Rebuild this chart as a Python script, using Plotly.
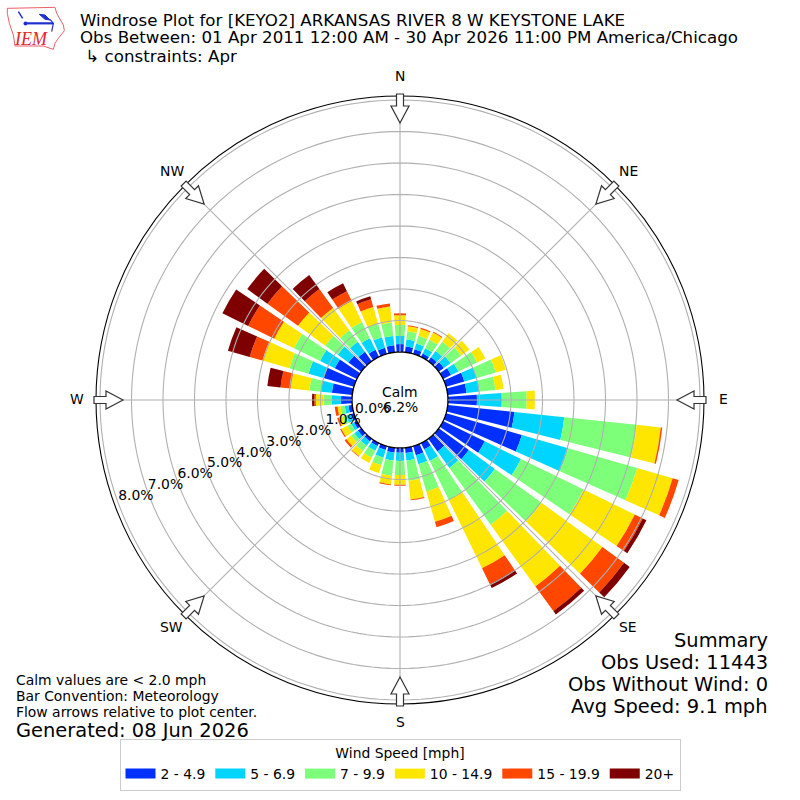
import math
import plotly.graph_objects as go

directions = list(range(0, 360, 10))
speed_bins = ["2 - 4.9", "5 - 6.9", "7 - 9.9", "10 - 14.9", "15 - 19.9", "20+"]
bin_colors = ["#0030ff", "#00d5ff", "#7dff7a", "#ffe600", "#ff4700", "#7f0000"]

freq_2_5 = [.25,.18,.15,.12,.15,.2,.28,.6,.6,.92,2.13,2.5,1.47,1.18,.5,.22,.3,.17,.15,.15,.13,.1,.1,.13,.1,.1,.12,.35,.65,1.0,.78,.5,.37,.25,.2,.22]
freq_5_7 = [.26,.23,.19,.18,.25,.26,.26,.42,.42,.79,1.59,1.53,1.28,1.02,.64,.41,.3,.24,.26,.26,.25,.17,.17,.14,.1,.15,.12,.3,.35,.5,.52,.42,.39,.41,.35,.3]
freq_7_10 = [.35,.26,.26,.3,.36,.42,.66,.62,.5,.79,2.31,2.28,2.21,1.83,2.23,1.37,.9,.64,.45,.49,.25,.25,.21,.13,.13,.13,.14,.26,.37,.63,.92,.49,.45,.57,.45,.43]
freq_10_15 = [.31,.16,.22,.26,.34,.32,.29,.33,.26,.26,.77,1.17,1.81,2.39,2.42,2.42,1.0,.6,.31,.27,.26,.18,.2,.18,.22,.12,.09,.24,.6,.89,.7,1.07,.88,.74,.55,.51]
freq_15_20 = [.06,.03,.04,.03,0,0,0,0,0,0,.05,.2,.28,.85,.97,.56,.18,.03,.03,.03,0,0,.02,.07,.04,.05,.09,.05,.32,.42,.92,1.2,.74,.35,.25,.1]
freq_20 = [0,0,0,0,0,0,0,0,0,0,0,0,.13,.22,.13,.14,0,0,0,0,0,0,0,0,0,0,0,.07,.42,.72,.91,.79,.55,.28,.1,0]
series = [freq_2_5, freq_5_7, freq_7_10, freq_10_15, freq_15_20, freq_20]

radial_ticks = [0, 1, 2, 3, 4, 5, 6, 7, 8]
compass_angles = [0, 45, 90, 135, 180, 225, 270, 315]
compass_labels = ["N", "NE", "E", "SE", "S", "SW", "W", "NW"]

title_lines = ["Windrose Plot for [KEYO2] ARKANSAS RIVER 8 W KEYSTONE LAKE",
               "Obs Between: 01 Apr 2011 12:00 AM - 30 Apr 2026 11:00 PM America/Chicago",
               " ↳ constraints: Apr"]
notes = ["Calm values are < 2.0 mph", "Bar Convention: Meteorology", "Flow arrows relative to plot center."]
summary = ["Summary", "Obs Used: 11443", "Obs Without Wind: 0", "Avg Speed: 9.1 mph"]

FONT = "DejaVu Sans"
GRID = "#b0b0b0"
CX, CY, OUTER, HOLE, UNIT = 400, 400, 304, 48, 31.5
R_MAX = (OUTER - HOLE) / UNIT
R_MIN = -HOLE / UNIT

px = lambda x: x / 800
py = lambda y: 1 - y / 800

fig = go.Figure()
for name, color, vals in zip(speed_bins, bin_colors, series):
    fig.add_trace(go.Barpolar(r=vals, theta=directions, width=8, name=name,
                              marker=dict(color=color, line=dict(width=0)), showlegend=False))

circle_theta = list(range(0, 361, 2))
for t in radial_ticks:
    fig.add_trace(go.Scatterpolar(r=[t] * len(circle_theta), theta=circle_theta, mode="lines",
                                  line=dict(color="black" if t == 0 else GRID, width=1.4 if t == 0 else 1.1),
                                  showlegend=False, hoverinfo="skip"))
for a in compass_angles:
    fig.add_trace(go.Scatterpolar(r=[0, R_MAX], theta=[a, a], mode="lines",
                                  line=dict(color=GRID, width=1.1), showlegend=False, hoverinfo="skip"))

fig.add_trace(go.Scatterpolar(r=[t - 0.6 for t in radial_ticks], theta=[250] * len(radial_ticks), mode="text",
                              text=[f"{t:.1f}%" for t in radial_ticks], textposition="middle center",
                              textfont=dict(family=FONT, size=13.9, color="black"),
                              showlegend=False, hoverinfo="skip"))

for name, color in zip(speed_bins, bin_colors):
    fig.add_trace(go.Scatterpolar(r=[None], theta=[None], mode="lines", name=name,
                                  line=dict(color=color, width=10), showlegend=True))


def arrow_path(angle):
    a = math.radians(angle)
    ux, uy = math.sin(a), -math.cos(a)
    vx, vy = -uy, ux
    outline = [(306, 3.5), (294, 3.5), (294, 9), (277, 0), (294, -9), (294, -3.5), (306, -3.5)]
    pts = [(CX + r * ux + w * vx, CY + r * uy + w * vy) for r, w in outline]
    return "M" + "L".join(f"{px(x):.5f},{py(y):.5f}" for x, y in pts) + "Z"


shapes = [dict(type="path", xref="paper", yref="paper", path=arrow_path(a),
               fillcolor="white", line=dict(color="#333333", width=1.2)) for a in compass_angles]

# IEM logo
def poly(points, close=True):
    s = "M" + "L".join(f"{px(x/3):.5f},{py(y/3):.5f}" for x, y in points)
    return s + ("Z" if close else "")

logo_outline = [(22,25),(165,22),(170,40),(190,75),(193,92),(175,115),(165,130),(160,148),(130,138),(45,138),(40,105),(28,70),(22,40)]
shapes.append(dict(type="path", xref="paper", yref="paper", path=poly(logo_outline),
                   fillcolor="white", line=dict(color="#e8606a", width=1)))
for pts, w in [([(75,70),(160,70)], 2.2), ([(150,58),(160,70),(155,95)], 1.2), ([(55,35),(68,55)], 1.5)]:
    shapes.append(dict(type="path", xref="paper", yref="paper", path=poly(pts, False),
                       line=dict(color="#2030d0", width=w)))
shapes.append(dict(type="path", xref="paper", yref="paper", path=poly([(118,43),(135,45),(150,60),(135,58)]),
                   fillcolor="#2030d0", line=dict(color="#2030d0", width=1)))
shapes.append(dict(type="circle", xref="paper", yref="paper", x0=px(23.5), x1=px(27.5), y0=py(25.5), y1=py(21.5),
                   fillcolor="#2030d0", line=dict(width=0)))

ann = []
def text(x, y, s, size, anchor="left", family=FONT, color="black"):
    shift = {"left": -2, "right": 2, "center": 0}[anchor]
    ann.append(dict(x=px(x + shift), y=py(y), xref="paper", yref="paper", text=s, showarrow=False,
                    xanchor=anchor, yanchor="middle", align=anchor,
                    font=dict(family=family, size=size, color=color)))

for line, y in zip(title_lines, [21, 38, 56]):
    text(80, y, line.replace(" ↳", "&nbsp;↳"), 16.67)
for line, y in zip(notes, [680, 696, 712]):
    text(16, y, line, 13.9)
text(16, 730, "Generated: 08 Jun 2026", 19.44)
for line, y in zip(summary, [640, 662, 684, 706]):
    text(768, y, line, 19.44, anchor="right")
text(400, 392, "Calm", 13.9, anchor="center")
text(400, 407, "6.2%", 13.9, anchor="center")
for a, label in zip(compass_angles, compass_labels):
    text(CX + 323 * math.sin(math.radians(a)), CY - 1 - 323 * math.cos(math.radians(a)), label, 13.9, anchor="center")
text(31, 39, "IEM", 18, anchor="center", family="Liberation Serif", color="#e0282e")
ann[-1]["font"]["style"] = "italic"

fig.update_layout(
    width=800, height=800, margin=dict(l=0, r=0, t=0, b=0), paper_bgcolor="white",
    polar=dict(
        domain=dict(x=[px(CX - OUTER), px(CX + OUTER)], y=[py(CY + OUTER), py(CY - OUTER)]),
        bgcolor="white", barmode="stack",
        radialaxis=dict(range=[R_MIN, R_MAX], showgrid=False, showline=False, showticklabels=False, ticks=""),
        angularaxis=dict(direction="clockwise", rotation=90, tickmode="array", tickvals=compass_angles,
                         showgrid=False, showline=True, linecolor="black", linewidth=1.1,
                         ticks="", showticklabels=False),
    ),
    shapes=shapes, annotations=ann,
    legend=dict(orientation="h", x=0.5, xanchor="center", y=py(739), yanchor="top",
                bordercolor="#cccccc", borderwidth=1, bgcolor="white",
                title=dict(text="Wind Speed [mph]", side="top center", font=dict(family=FONT, size=13.9, color="black")),
                font=dict(family=FONT, size=13.9, color="black")),
    font=dict(family=FONT),
)
fig.write_html("out.html", post_script="document.body.style.margin='0';", config={"displayModeBar": False})
